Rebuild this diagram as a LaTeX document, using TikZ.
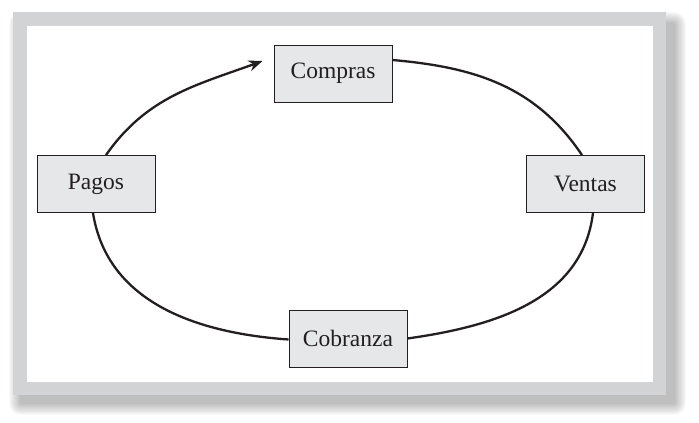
\documentclass[tikz,border=0pt]{standalone}
\usepackage{fontspec}
\setmainfont{Liberation Serif}
\usepackage{tikz}
\usetikzlibrary{positioning}
\usetikzlibrary{calc}
\usetikzlibrary{arrows.meta}
\definecolor{framegray}{RGB}{209,211,212}
\definecolor{boxgray}{RGB}{230,231,232}
\definecolor{inkgray}{RGB}{35,31,32}
\tikzset{
    % A filled arrow head for the one arrow of the cycle
    >={Stealth[length=14pt,width=11pt]},
%
    % Boxes holding the four stages of the cycle
    stage box/.style={
        draw=inkgray, fill=boxgray, line width=0.9pt,
        minimum width=118pt, minimum height=57pt, inner sep=0pt,
        text=inkgray, font=\fontsize{23.5}{28}\selectfont},
%
    % Curved links going round from stage to stage
    cycle link/.style={draw=inkgray, line width=2.3pt}}

\begin{document}
\begin{tikzpicture}[x=1pt, y=1pt]
\useasboundingbox (0,0) rectangle (699,423);

% Soft shadow under the frame
\foreach \spread in {1,...,12}
    \fill [black, opacity=0.022, rounded corners=\spread pt]
        (21-\spread, 20-\spread) rectangle (674+\spread, 399+\spread);

% Gray frame round a white page
\fill [framegray] (13,28) rectangle (666,411);
\fill [white] (27,41) rectangle (653,397);

% The four stages
\node [stage box] (compras) at (333,349.5) {Compras};
\node [stage box] (pagos) at (96,239) {Pagos};
\node [stage box] (ventas) at (585.5,239) {Ventas};
\node [stage box] (cobranza) at (348,84.5) {Cobranza};

% Links round the cycle
\draw [cycle link, ->] ([xshift=10pt]pagos.north)
    to [out=55, in=200] ([xshift=-11pt, yshift=12.5pt]compras.west);
\draw [cycle link] ([yshift=13.5pt]compras.east)
    to [out=-5, in=124] ([xshift=-3.5pt]ventas.north);
\draw [cycle link] ([xshift=7.5pt]ventas.south)
    to [out=-97, in=8] (cobranza.east);
\draw [cycle link] ([yshift=-1pt]cobranza.west)
    to [out=176, in=-81] ([xshift=-3pt]pagos.south);

\end{tikzpicture}
\end{document}
